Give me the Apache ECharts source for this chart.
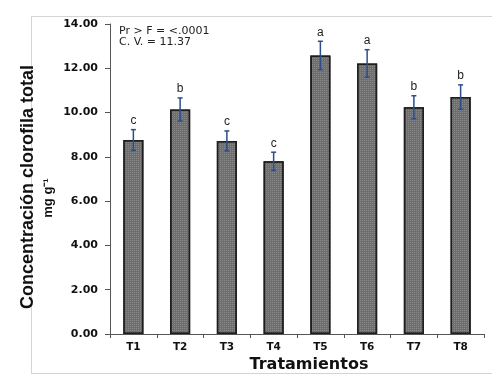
<!DOCTYPE html>
<html>
<head>
<meta charset="utf-8">
<script src="https://cdn.jsdelivr.net/npm/echarts@6/dist/echarts.min.js"></script>
<style>
  html, body { margin: 0; padding: 0; background: #fff; }
  #frame {
    position: absolute; left: 31px; top: 16px; width: 460px; height: 356px;
    border-top: 1px solid #d4d4d4; border-left: 1px solid #d4d4d4; border-bottom: 1px solid #d4d4d4;
  }
  #chart { position: absolute; left: 0; top: 0; width: 500px; height: 386px; }
</style>
</head>
<body>
<div id="frame"></div>
<div id="chart"></div>
<script>
// datos
const treatments = ["T1", "T2", "T3", "T4", "T5", "T6", "T7", "T8"];
const chlorophyll = [8.76, 10.14, 8.72, 7.80, 12.58, 12.22, 10.24, 10.70];
const stdError = [0.47, 0.52, 0.45, 0.41, 0.64, 0.62, 0.52, 0.55];
const groups = ["c", "b", "c", "c", "a", "a", "b", "b"];
const yTicks = [0, 14, 2]; // min, max, intervalo

const errData = treatments.map((t, i) => [i, chlorophyll[i], stdError[i]]);

const chart = echarts.init(document.getElementById("chart"));
const font = "Liberation Sans";
const heavy = "DejaVu Sans";

const option = {
  animation: false,
  grid: { left: 110, right: 16, top: 24, bottom: 52 },
  xAxis: {
    type: "category",
    data: treatments,
    axisLine: { lineStyle: { color: "#555", width: 1 } },
    axisTick: { show: true, length: 4, lineStyle: { color: "#555" } },
    axisLabel: { color: "#111", fontFamily: heavy, fontWeight: "bold", fontSize: 10.5, margin: 8 }
  },
  yAxis: {
    type: "value",
    min: yTicks[0],
    max: yTicks[1],
    interval: yTicks[2],
    axisLine: { show: true, lineStyle: { color: "#555", width: 1 } },
    axisTick: { show: true, length: 5, lineStyle: { color: "#555" } },
    splitLine: { show: false },
    axisLabel: {
      color: "#111", fontFamily: heavy, fontWeight: "bold", fontSize: 11, margin: 12,
      formatter: (v) => v.toFixed(2)
    }
  },
  series: [
    {
      type: "bar",
      data: chlorophyll,
      barWidth: "43%",
      itemStyle: {
        color: "#6e6e6e",
        borderColor: "#1e1e1e",
        borderWidth: 1.5,
        decal: {
          symbol: "rect",
          symbolSize: 1,
          dashArrayX: [1, 1],
          dashArrayY: [1, 1],
          color: "rgba(160,160,160,0.55)"
        }
      }
    },
    {
      type: "custom",
      data: errData,
      z: 5,
      renderItem: function (params, api) {
        const i = api.value(0), v = api.value(1), e = api.value(2);
        const top = api.coord([i, v + e]);
        const bot = api.coord([i, v - e]);
        const c = 2.5;
        const stroke = { stroke: "#2c4c8c", lineWidth: 1.5 };
        return {
          type: "group",
          children: [
            { type: "line", shape: { x1: top[0], y1: top[1], x2: bot[0], y2: bot[1] }, style: stroke },
            { type: "line", shape: { x1: top[0] - c, y1: top[1], x2: top[0] + c, y2: top[1] }, style: stroke },
            { type: "line", shape: { x1: bot[0] - c, y1: bot[1], x2: bot[0] + c, y2: bot[1] }, style: stroke },
            {
              type: "text",
              style: {
                text: groups[params.dataIndex], x: top[0], y: top[1] - 3,
                align: "center", verticalAlign: "bottom",
                font: "12px " + font, fill: "#222"
              }
            }
          ]
        };
      }
    }
  ],
  graphic: [
    {
      type: "text", left: 119, top: 26,
      style: { text: "Pr > F = <.0001\nC. V. = 11.37", font: "11px " + heavy, fill: "#222", lineHeight: 11 }
    },
    {
      type: "text", x: 28, y: 187, rotation: Math.PI / 2,
      style: {
        text: "Concentración clorofila total", font: "bold 18px " + font, fill: "#111",
        align: "center", verticalAlign: "middle"
      }
    },
    {
      type: "text", x: 48, y: 198, rotation: Math.PI / 2,
      style: {
        text: "mg g⁻¹", font: "bold 13px " + font, fill: "#111",
        align: "center", verticalAlign: "middle"
      }
    },
    {
      type: "text", x: 309, y: 365,
      style: {
        text: "Tratamientos", font: "bold 16px " + heavy, fill: "#111",
        align: "center", verticalAlign: "middle"
      }
    }
  ]
};

chart.setOption(option);
</script>
</body>
</html>
